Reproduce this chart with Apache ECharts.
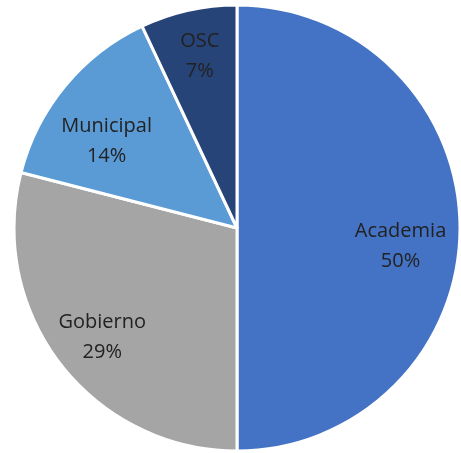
<!DOCTYPE html>
<html><head><meta charset="utf-8">
<script src="https://cdn.jsdelivr.net/npm/echarts@6/dist/echarts.min.js"></script>
<style>html,body{margin:0;padding:0;background:#fff}#c{width:461px;height:453px}</style>
</head><body><div id="c"></div>
<script>
const categories = ['Academia', 'Gobierno', 'Municipal', 'OSC'];
const values = [50, 29, 14, 7];
const colors = ['#4472C4', '#A5A5A5', '#5B9BD5', '#264478'];
const data = categories.map((n, i) => ({ name: n, value: values[i], itemStyle: { color: colors[i] } }));
const labelShift = [[-7, 18], [0, 5], [1, 22], [0, -5]];
const chart = echarts.init(document.getElementById('c'));
chart.setOption({
  animation: false,
  series: [{
    type: 'pie', center: [237, 228], radius: [0, 223], startAngle: 90, clockwise: true,
    data: data, label: { show: false }, labelLine: { show: false },
    itemStyle: { borderColor: '#fff', borderWidth: 3 }
  }, {
    type: 'pie', center: [237, 228], radius: [112, 223], startAngle: 90, clockwise: true, silent: true,
    data: data.map(d => ({ name: d.name, value: d.value })),
    itemStyle: { color: 'rgba(0,0,0,0)' },
    label: { show: true, position: 'inside', formatter: p => p.name + '\n' + p.value + '%',
      fontFamily: 'Open Sans', fontSize: 20, color: '#222', lineHeight: 30 },
    labelLine: { show: false },
    labelLayout: p => ({ dx: labelShift[p.dataIndex][0], dy: labelShift[p.dataIndex][1] })
  }]
});
</script></body></html>
